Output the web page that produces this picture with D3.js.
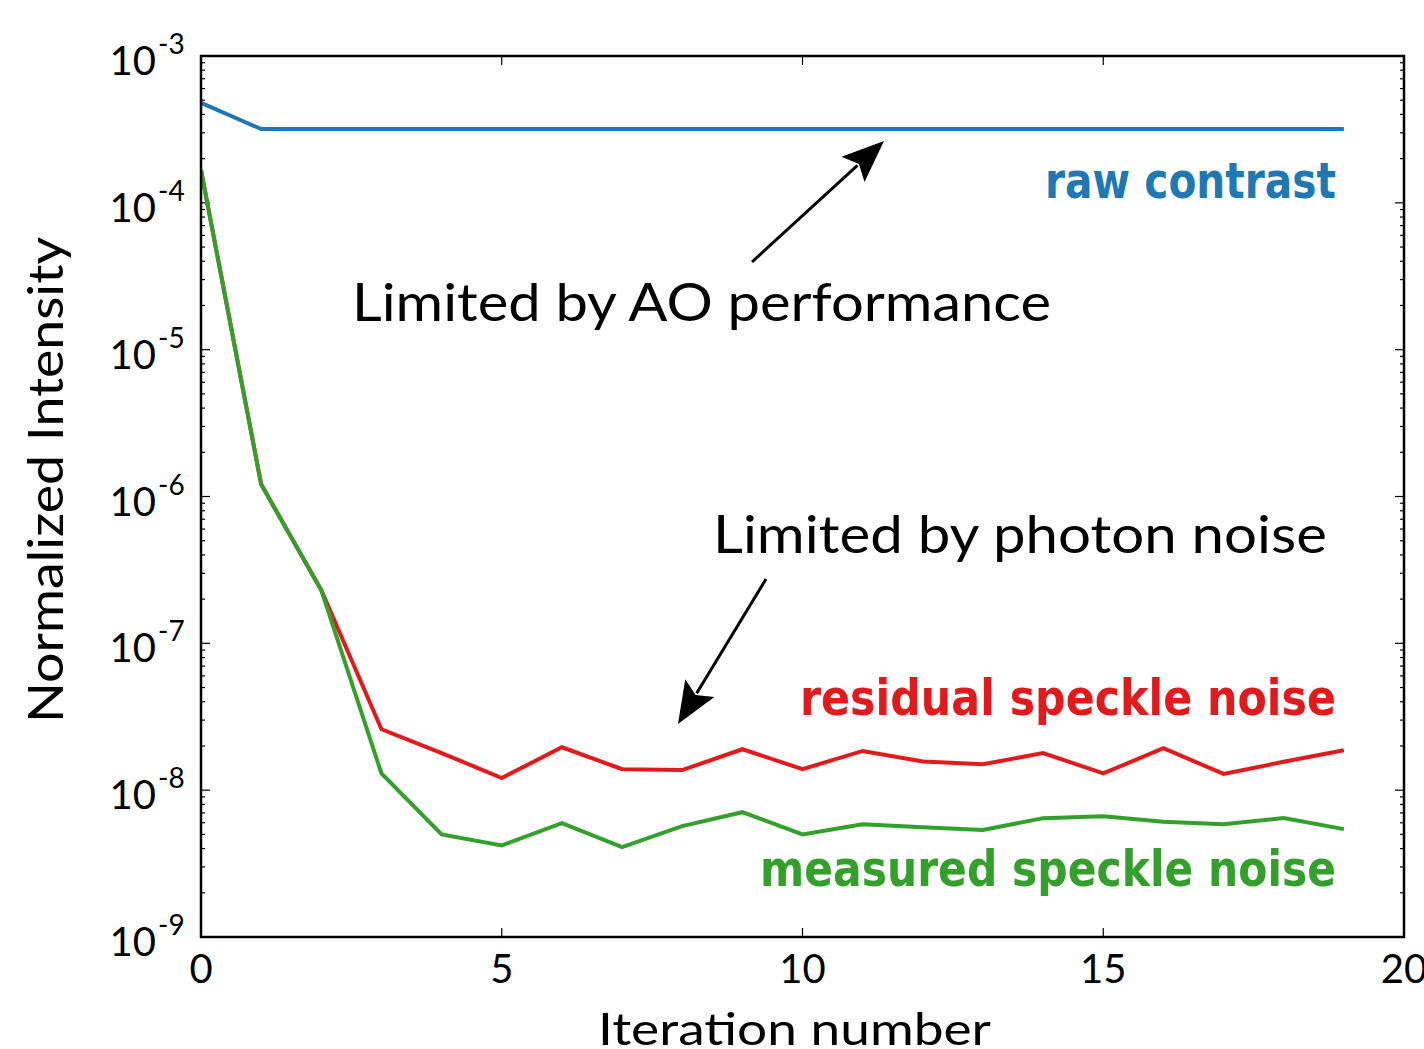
<!DOCTYPE html>
<html><head><meta charset="utf-8">
<script src="https://cdn.jsdelivr.net/npm/d3@7"></script>
<style>body{margin:0;background:#fff;} svg{display:block;}</style>
</head><body>
<svg id="c" width="1424" height="1049"></svg>
<script>
const iterations = d3.range(0, 20);
const rawContrast = [4.8e-4, 3.18e-4, 3.18e-4, 3.18e-4, 3.18e-4, 3.18e-4, 3.18e-4, 3.18e-4, 3.18e-4, 3.18e-4,
  3.18e-4, 3.18e-4, 3.18e-4, 3.18e-4, 3.18e-4, 3.18e-4, 3.18e-4, 3.18e-4, 3.18e-4, 3.18e-4];
const residualNoise = [1.67e-4, 1.21e-6, 2.3e-7, 2.6e-8, 1.79e-8, 1.21e-8, 1.96e-8, 1.39e-8, 1.37e-8, 1.9e-8,
  1.39e-8, 1.85e-8, 1.57e-8, 1.5e-8, 1.79e-8, 1.3e-8, 1.93e-8, 1.29e-8, 1.56e-8, 1.87e-8];
const measuredNoise = [1.67e-4, 1.21e-6, 2.3e-7, 1.3e-8, 5.0e-9, 4.2e-9, 5.96e-9, 4.09e-9, 5.69e-9, 7.08e-9,
  5.0e-9, 5.86e-9, 5.6e-9, 5.35e-9, 6.45e-9, 6.65e-9, 6.1e-9, 5.86e-9, 6.45e-9, 5.43e-9];
const xTicks = [0, 5, 10, 15, 20];
const yExponents = [-3, -4, -5, -6, -7, -8, -9];

const L = 201, R = 1404, T = 56, B = 937;
const svg = d3.select("#c");
const x = d3.scaleLinear().domain([0, 20]).range([L, R]);
const y = d3.scaleLog().domain([1e-9, 1e-3]).range([B, T]);
const BFONT = "'DejaVu Sans Condensed', 'Open Sans', sans-serif";
const LFONT = "'Lato', 'Open Sans', sans-serif";

// minor / major ticks
const minorVals = [];
for (let e = -9; e < -3; e++) for (let m = 2; m <= 9; m++) minorVals.push(m * Math.pow(10, e));
const tg = svg.append("g").attr("stroke", "#000").attr("stroke-width", 1.2);
minorVals.forEach(v => {
  tg.append("line").attr("x1", L).attr("x2", L + 4).attr("y1", y(v)).attr("y2", y(v));
  tg.append("line").attr("x1", R).attr("x2", R - 4).attr("y1", y(v)).attr("y2", y(v));
});
yExponents.forEach(e => {
  const v = Math.pow(10, e);
  tg.append("line").attr("x1", L).attr("x2", L + 9).attr("y1", y(v)).attr("y2", y(v));
  tg.append("line").attr("x1", R).attr("x2", R - 9).attr("y1", y(v)).attr("y2", y(v));
});
xTicks.forEach(t => {
  tg.append("line").attr("x1", x(t)).attr("x2", x(t)).attr("y1", B).attr("y2", B - 9);
  tg.append("line").attr("x1", x(t)).attr("x2", x(t)).attr("y1", T).attr("y2", T + 9);
});

// lines
const line = d3.line().x((d, i) => x(iterations[i])).y(d => y(d));
const series = [
  {data: rawContrast, color: "#1f78b4"},
  {data: residualNoise, color: "#e31a1c"},
  {data: measuredNoise, color: "#33a02c"}
];
svg.append("clipPath").attr("id", "clp").append("rect")
  .attr("x", L).attr("y", T).attr("width", R - L).attr("height", B - T);
series.forEach(s => {
  svg.append("path").attr("d", line(s.data)).attr("fill", "none")
    .attr("stroke", s.color).attr("stroke-width", 4).attr("clip-path", "url(#clp)");
});

// frame
svg.append("rect").attr("x", L).attr("y", T).attr("width", R - L).attr("height", B - T)
  .attr("fill", "none").attr("stroke", "#000").attr("stroke-width", 2.5);

// tick labels
xTicks.forEach(t => {
  svg.append("text").attr("x", x(t)).attr("y", B + 46).attr("text-anchor", "middle")
    .attr("font-family", LFONT).attr("font-size", 40).attr("fill", "#000").text(t);
});
yExponents.forEach(e => {
  const yy = y(Math.pow(10, e));
  svg.append("text").attr("x", 156).attr("y", yy + 19).attr("text-anchor", "end")
    .attr("font-family", LFONT).attr("font-size", 40).attr("fill", "#000").text("10");
  svg.append("text").attr("x", 158).attr("y", yy - 2).attr("text-anchor", "start")
    .attr("font-family", LFONT).attr("font-size", 28).attr("fill", "#000").text("-" + Math.abs(e));
});

// axis titles
svg.append("text").attr("x", (L + R) / 2 - 8).attr("y", 1045).attr("text-anchor", "middle")
  .attr("font-family", LFONT).attr("font-size", 45).attr("fill", "#000")
  .attr("textLength", 393).attr("lengthAdjust", "spacingAndGlyphs").text("Iteration number");
svg.append("text").attr("transform", "translate(63,480) rotate(-90)").attr("text-anchor", "middle")
  .attr("font-family", LFONT).attr("font-size", 48).attr("fill", "#000")
  .attr("textLength", 486).attr("lengthAdjust", "spacingAndGlyphs").text("Normalized Intensity");

// series labels
function lab(txt, xs, xe, yb, color, bold, size) {
  svg.append("text").attr("x", xs).attr("y", yb).attr("font-family", bold ? BFONT : LFONT)
    .attr("font-weight", bold ? "bold" : "normal").attr("font-size", size).attr("fill", color)
    .attr("textLength", xe - xs).attr("lengthAdjust", "spacingAndGlyphs").text(txt);
}
lab("raw contrast", 1045, 1336, 198, "#1f78b4", true, 50);
lab("residual speckle noise", 800, 1336, 715, "#e31a1c", true, 50);
lab("measured speckle noise", 760, 1336, 886, "#33a02c", true, 50);
lab("Limited by AO performance", 352, 1051, 321, "#000", false, 53);
lab("Limited by photon noise", 713, 1327, 553, "#000", false, 53);

// arrows
function arrow(x1, y1, x2, y2) {
  const ang = Math.atan2(y2 - y1, x2 - x1);
  const hl = 42, hw = 17;
  const bx = x2 - hl * Math.cos(ang), by = y2 - hl * Math.sin(ang);
  svg.append("line").attr("x1", x1).attr("y1", y1).attr("x2", bx + 6 * Math.cos(ang)).attr("y2", by + 6 * Math.sin(ang))
    .attr("stroke", "#000").attr("stroke-width", 3);
  const px = -Math.sin(ang), py = Math.cos(ang);
  const pts = [[x2, y2], [bx + hw * px, by + hw * py], [bx + 8 * Math.cos(ang), by + 8 * Math.sin(ang)], [bx - hw * px, by - hw * py]];
  svg.append("path").attr("d", "M" + pts.map(p => p.join(",")).join("L") + "Z").attr("fill", "#000");
}
arrow(752, 262, 884, 141);
arrow(766, 579, 678, 724);
</script>
</body></html>
